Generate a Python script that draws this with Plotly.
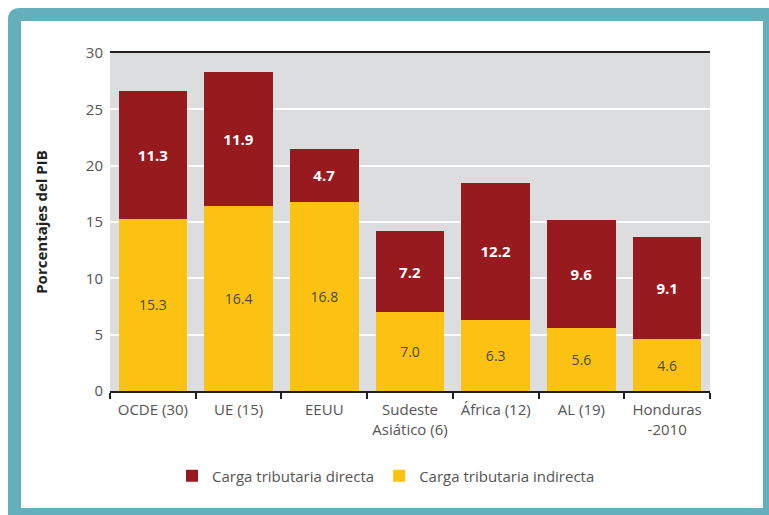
import plotly.graph_objects as go

categorias = ["OCDE (30)", "UE (15)", "EEUU", "Sudeste<br>Asiático (6)", "África (12)", "AL (19)", "Honduras<br>-2010"]
directa = [11.3, 11.9, 4.7, 7.2, 12.2, 9.6, 9.1]
indirecta = [15.3, 16.4, 16.8, 7.0, 6.3, 5.6, 4.6]
y_ticks = [0, 5, 10, 15, 20, 25, 30]

ROJO = "#971a1f"
AMARILLO = "#fcc212"
TEAL = "#63afbc"
FONT = "Open Sans"

W, H = 769, 515
L, R, T, B = 110, 59, 53, 124
pw, ph = W - L - R, H - T - B

def px(x):
    return (x - L) / pw

def py(y):
    return (H - B - y) / ph

fig = go.Figure()
fig.add_trace(go.Bar(
    x=categorias, y=indirecta, name="Carga tributaria indirecta",
    marker=dict(color=AMARILLO, line=dict(width=0)),
    text=[f"{v:.1f}" for v in indirecta], textposition="inside",
    insidetextanchor="middle", textangle=0,
    textfont=dict(family=FONT, size=14, color="#4a4a4a"),
    legendrank=2,
))
fig.add_trace(go.Bar(
    x=categorias, y=directa, name="Carga tributaria directa",
    marker=dict(color=ROJO, line=dict(width=0)),
    text=[f"{v:.1f}" for v in directa], textposition="inside",
    insidetextanchor="middle", textangle=0,
    textfont=dict(family=FONT, size=15, color="white", weight="bold"),
    legendrank=1,
))

def rounded(x0, y0, x1, y1, r):
    return (f"M {px(x0)},{py(y0 + r)} "
            f"Q {px(x0)},{py(y0)} {px(x0 + r)},{py(y0)} "
            f"L {px(x1)},{py(y0)} L {px(x1)},{py(y1)} L {px(x0)},{py(y1)} Z")

shapes = [
    dict(type="path", xref="paper", yref="paper", path=rounded(8, 8, 790, 540, 12),
         fillcolor=TEAL, line=dict(width=0), layer="below"),
    dict(type="rect", xref="paper", yref="paper", x0=px(21), x1=px(763), y0=py(21), y1=py(508),
         fillcolor="white", line=dict(width=0), layer="below"),
    dict(type="rect", xref="paper", yref="paper", x0=0, x1=1, y0=0, y1=1,
         fillcolor="#dcdddf", line=dict(width=0), layer="below"),
]

fig.update_layout(
    width=W, height=H, barmode="stack", bargap=0.2,
    margin=dict(l=L, r=R, t=T, b=B, autoexpand=False),
    paper_bgcolor="white", plot_bgcolor="rgba(0,0,0,0)",
    font=dict(family=FONT, size=15, color="#555555"),
    shapes=shapes,
    legend=dict(orientation="h", x=0.46, xanchor="center", y=py(476), yanchor="middle",
                font=dict(family=FONT, size=15, color="#555555"), traceorder="normal",
                itemwidth=30, bgcolor="rgba(0,0,0,0)"),
    showlegend=True,
)
fig.update_xaxes(
    showline=True, linecolor="#231f20", linewidth=2, mirror=True,
    ticks="outside", tickson="boundaries", ticklen=6, tickcolor="#231f20", tickwidth=1.5,
    ticklabelstandoff=4,
    tickfont=dict(family=FONT, size=15, color="#555555"), showgrid=False,
)
fig.update_yaxes(
    range=[0, 30], tickvals=y_ticks, showgrid=True, gridcolor="white", gridwidth=1.5,
    zeroline=False, showline=False, ticks="", ticklabelstandoff=6,
    tickfont=dict(family=FONT, size=15, color="#555555"),
    title=dict(text="Porcentajes del PIB", standoff=34,
               font=dict(family=FONT, size=15, color="#231f20", weight="bold")),
)

fig.write_html("out.html", config={"displayModeBar": False},
               post_script="document.body.style.margin='0';document.body.style.overflow='hidden';")
